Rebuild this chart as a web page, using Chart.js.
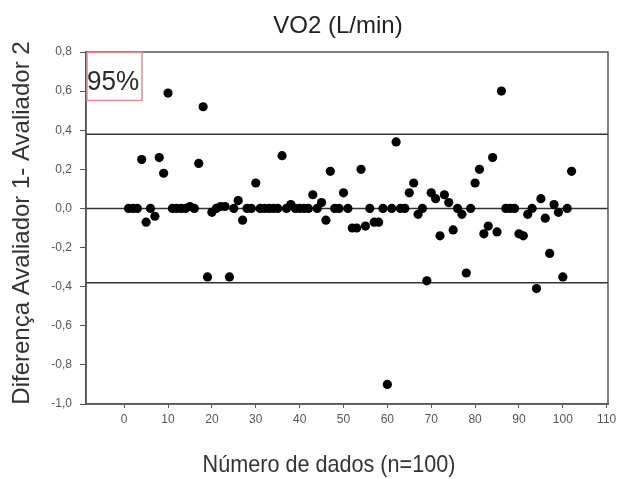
<!DOCTYPE html>
<html>
<head>
<meta charset="utf-8">
<script src="https://cdn.jsdelivr.net/npm/chart.js@4/dist/chart.umd.min.js"></script>
<style>
html,body{margin:0;padding:0;background:#fff;}
#wrap{width:621px;height:479px;position:relative;}
</style>
</head>
<body>
<div id="wrap"><canvas id="c" width="621" height="479"></canvas></div>
<script>
// ---- data ----
const sampleIndex = [1,2,3,4,5,6,7,8,9,10,11,12,13,14,15,16,17,18,19,20,21,22,23,24,25,26,27,28,29,30,31,32,33,34,35,36,37,38,39,40,41,42,43,44,45,46,47,48,49,50,51,52,53,54,55,56,57,58,59,60,61,62,63,64,65,66,67,68,69,70,71,72,73,74,75,76,77,78,79,80,81,82,83,84,85,86,87,88,89,90,91,92,93,94,95,96,97,98,99,100,101,102];
const differences = [0,0,0,0.25,-0.07,0,-0.04,0.26,0.18,0.59,0,0,0,0,0.01,0,0.23,0.52,-0.35,-0.02,0,0.01,0.01,-0.35,0,0.04,-0.06,0,0,0.13,0,0,0,0,0,0.27,0,0.02,0,0,0,0,0.07,0,0.03,-0.06,0.19,0,0,0.08,0,-0.1,-0.1,0.2,-0.09,0,-0.07,-0.07,0,-0.9,0,0.34,0,0,0.08,0.13,-0.03,0,-0.37,0.08,0.05,-0.14,0.07,0.03,-0.11,0,-0.03,-0.33,0,0.13,0.2,-0.13,-0.09,0.26,-0.12,0.6,0,0,0,-0.13,-0.14,-0.03,0,-0.41,0.05,-0.05,-0.23,0.02,-0.02,-0.35,0,0.19];
const referenceLines = [0.38, 0, -0.38]; // upper limit, mean, lower limit
const xTickValues = [0,10,20,30,40,50,60,70,80,90,100,110];
const xRange = [-8.7, 110.3];
const yRange = [-1.0, 0.8];
const chartTitle = 'VO2 (L/min)';
const xTitle = 'Número de dados (n=100)';
const yTitle = 'Diferença Avaliador 1- Avaliador 2';
const boxLabel = '95%';

const FONT = '"Liberation Sans", Arial, sans-serif';
const points = sampleIndex.map((x,i)=>({x:x,y:differences[i]}));
const lineSets = referenceLines.map(v=>({
  type:'line', data:[{x:xRange[0],y:v},{x:xRange[1],y:v}],
  borderColor:'#333', borderWidth:1.5, pointRadius:0, fill:false, order:2
}));

const framePlugin = {
  id:'frame',
  afterDatasetsDraw(chart){
    const {ctx, chartArea:a} = chart;
    ctx.save();
    ctx.strokeStyle = '#555';
    ctx.lineWidth = 1.5;
    ctx.strokeRect(a.left, a.top, a.right-a.left, a.bottom-a.top);
    // 95% label box
    ctx.strokeStyle = '#e98a8f';
    ctx.lineWidth = 1.5;
    ctx.strokeRect(a.left+1, a.top+0.5, 55, 48);
    ctx.fillStyle = '#2a2a2a';
    ctx.font = '28px ' + FONT;
    ctx.textBaseline = 'alphabetic';
    ctx.textAlign = 'left';
    ctx.save();
    ctx.translate(a.left+1, a.top+38);
    ctx.scale(0.93,1);
    ctx.fillText(boxLabel, 0, 0);
    ctx.restore();
    ctx.restore();
  },
  afterDraw(chart){
    const {ctx, chartArea:a} = chart;
    ctx.save();
    // chart title
    ctx.fillStyle = '#222';
    ctx.textAlign = 'center';
    ctx.textBaseline = 'alphabetic';
    ctx.font = '24px ' + FONT;
    ctx.fillText(chartTitle, 338, 33);
    // x axis title
    ctx.fillStyle = '#333';
    ctx.save();
    ctx.translate(329, 472);
    ctx.scale(0.9,1);
    ctx.font = '24px ' + FONT;
    ctx.fillText(xTitle, 0, 0);
    ctx.restore();
    // y axis title
    ctx.save();
    ctx.translate(22, 223);
    ctx.rotate(-Math.PI/2);
    ctx.textBaseline = 'middle';
    ctx.font = '24px ' + FONT;
    ctx.fillText(yTitle, 0, 0);
    ctx.restore();
    ctx.restore();
  }
};

new Chart(document.getElementById('c'), {
  type:'scatter',
  data:{
    datasets:[
      {data:points, backgroundColor:'#000', borderColor:'#000', borderWidth:0, pointRadius:4.6, pointHoverRadius:4.6, order:1},
      ...lineSets
    ]
  },
  options:{
    responsive:false,
    animation:false,
    devicePixelRatio:1,
    layout:{padding:{left:0,right:13,top:52,bottom:0}},
    plugins:{
      legend:{display:false},
      tooltip:{enabled:false},
      title:{display:false}
    },
    scales:{
      x:{
        type:'linear', min:xRange[0], max:xRange[1],
        afterBuildTicks(axis){ axis.ticks = xTickValues.map(v=>({value:v})); },
        afterFit(s){ s.height = 75; },
        grid:{drawOnChartArea:false, drawTicks:true, tickLength:4, color:'#555'},
        border:{display:true, color:'#555', width:1.5},
        ticks:{color:'#555', padding:4, maxRotation:0, font:{family:FONT, size:12},
          callback:(v)=>String(v)},
        title:{display:false}
      },
      y:{
        type:'linear', min:yRange[0], max:yRange[1],
        afterFit(s){ s.width = 86; },
        grid:{drawOnChartArea:false, drawTicks:true, tickLength:6, color:'#555'},
        border:{display:true, color:'#555', width:1.5},
        ticks:{color:'#555', padding:8, stepSize:0.2, font:{family:FONT, size:12},
          callback:(v)=>v.toFixed(1).replace('.',',')},
        title:{display:false}
      }
    }
  },
  plugins:[framePlugin]
});
</script>
</body>
</html>
